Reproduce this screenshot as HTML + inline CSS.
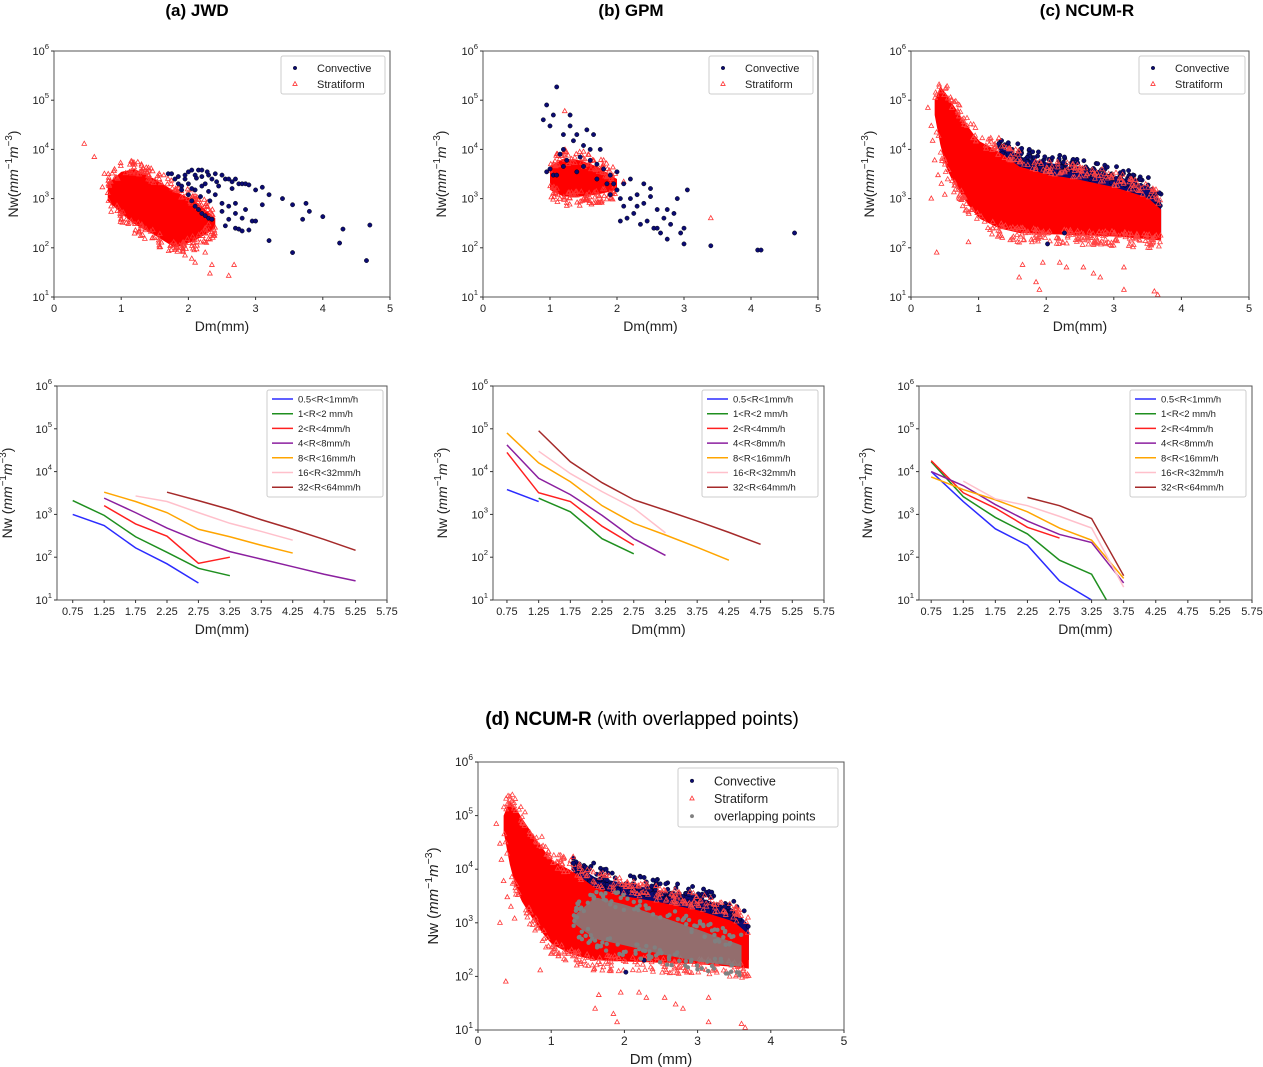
<!DOCTYPE html>
<html><head><meta charset="utf-8">
<style>
html,body{margin:0;padding:0;background:#fff;}
svg{display:block;font-family:"Liberation Sans","DejaVu Sans",sans-serif;}
</style></head>
<body>
<svg id="fig" width="1263" height="1067" viewBox="0 0 1263 1067" xmlns="http://www.w3.org/2000/svg">
<rect width="1263" height="1067" fill="#fff"/>
<text x="197" y="16" text-anchor="middle" font-size="17" font-weight="bold">(a) JWD</text>
<text x="631" y="16" text-anchor="middle" font-size="17" font-weight="bold">(b) GPM</text>
<text x="1087" y="16" text-anchor="middle" font-size="17" font-weight="bold">(c) NCUM-R</text>
<text x="642" y="725" text-anchor="middle" font-size="19"><tspan font-weight="bold">(d) NCUM-R</tspan> (with overlapped points)</text>
<g id="layer"></g>
</svg>
<script>
// ===== DATA =====
const lineXs = [0.75,1.25,1.75,2.25,2.75,3.25,3.75,4.25,4.75,5.25];
const seriesNames = ["0.5<R<1mm/h","1<R<2 mm/h","2<R<4mm/h","4<R<8mm/h","8<R<16mm/h","16<R<32mm/h","32<R<64mm/h"];
const jwdLines = [
 [1000,550,165,70,25,null,null,null,null,null],
 [2100,950,300,130,55,37,null,null,null,null],
 [null,1600,600,310,72,100,null,null,null,null],
 [null,2400,1100,480,240,135,90,60,40,28],
 [null,3300,2000,1100,450,300,190,125,null,null],
 [null,null,2700,2000,1100,620,400,250,null,null],
 [null,null,null,3300,2100,1300,750,450,260,145]
];
const gpmLines = [
 [3800,2000,null,null,null,null,null,null,null,null],
 [null,2400,1150,270,120,null,null,null,null,null],
 [28000,3200,2000,530,190,null,null,null,null,null],
 [42000,7000,2900,950,270,110,null,null,null,null],
 [80000,16000,5800,1600,620,330,170,85,null,null],
 [null,30000,9000,3400,1400,370,null,null,null,null],
 [null,90000,17000,5500,2200,1250,700,380,200,null]
];
const ncumLines = [
 [10000,2000,460,190,28,10,null,null,null,null],
 [17000,2600,850,350,85,40,2,null,null,null],
 [18000,3200,1400,500,280,null,null,null,null,null],
 [10000,4700,1700,700,340,220,25,null,null,null],
 [7500,3800,2200,1150,480,250,32,null,null,null],
 [null,6000,2300,1600,900,480,20,null,null,null],
 [null,null,null,2500,1600,800,37,null,null,null]
];
const jwdConv = [[1.7,3200],[1.75,3200],[1.8,2500],[1.85,2000],[1.9,1800],[1.95,2500],[2.0,3500],[2.05,3800],[2.1,3000],[2.15,3800],[2.2,3800],[2.25,2000],[2.3,3000],[2.35,2500],[2.4,3200],[2.5,3000],[2.55,2500],[2.6,2500],[2.65,2200],[2.7,2500],[2.75,2000],[2.8,2000],[2.85,2000],[2.9,1900],[1.9,1500],[2.0,1200],[2.05,900],[2.1,700],[2.15,600],[2.2,500],[2.25,450],[2.3,400],[2.35,380],[2.0,2000],[2.1,1500],[2.2,1800],[2.3,1400],[2.4,1200],[2.5,800],[2.6,700],[2.7,800],[2.5,550],[2.6,380],[2.7,250],[2.55,280],[2.75,240],[2.8,220],[2.9,230],[2.95,350],[3.0,350],[2.8,400],[2.85,600],[2.7,500],[3.0,1500],[3.1,1700],[3.2,1200],[3.1,750],[3.4,1000],[3.55,750],[3.75,800],[3.8,550],[3.7,380],[4.0,430],[4.3,240],[4.7,290],[3.2,140],[3.55,80],[4.25,125],[4.65,55],[2.45,1800],[2.65,1600],[2.2,2800],[1.95,3000],[2.12,2600],[2.28,3500],[2.42,2200],[1.85,2800],[2.05,1600],[2.18,1100],[2.32,900]];
const jwdStratEnvX = [0.8,1.0,1.2,1.5,1.8,2.1,2.4];
const jwdStratUp   = [2000,3500,4000,2500,1400,900,400];
const jwdStratLow  = [900,500,300,180,100,140,250];
const jwdStratOut  = [[0.45,13000],[0.6,7000],[0.75,3200],[0.72,1700],[0.82,1800],[0.8,1300],[1.95,70],[2.05,60],[2.1,50],[2.25,80],[2.35,45],[2.32,30],[2.6,27],[2.68,45],[1.8,90],[2.3,300],[2.25,250]];
const gpmConv = [[0.95,80000],[0.9,40000],[1.0,30000],[1.1,186000],[1.05,50000],[1.2,20000],[1.3,30000],[1.35,15000],[1.4,20000],[1.5,12000],[1.55,25000],[1.6,10000],[0.95,3500],[1.0,4000],[1.05,3000],[1.15,8000],[1.25,6000],[1.45,7000],[1.6,6000],[1.7,5000],[1.8,4000],[1.9,3000],[1.95,2000],[2.0,1500],[2.05,1000],[2.1,700],[2.2,2500],[2.3,1200],[2.4,800],[2.5,1600],[2.6,600],[2.7,400],[2.8,300],[2.9,1000],[3.0,250],[3.05,1500],[2.15,400],[2.25,500],[2.35,300],[2.45,350],[2.55,250],[2.65,200],[2.75,150],[2.85,500],[2.95,200],[3.0,120],[3.4,110],[4.1,90],[4.15,90],[4.65,200],[1.75,10000],[1.85,2000],[2.0,3500],[2.1,2000],[2.3,700],[2.4,2000],[1.65,20000],[1.3,50000],[1.2,10000],[1.1,3000],[1.2,4500],[1.4,3500],[1.5,4500],[1.7,2500],[1.9,1200],[2.2,1000],[2.5,1100],[2.6,250],[2.05,350],[2.75,600]];
const gpmStratEnvX = [1.0,1.2,1.45,1.7,2.0];
const gpmStratUp   = [4500,6500,6000,4500,2500];
const gpmStratLow  = [1500,1100,1100,1200,1500];
const gpmStratOut  = [[1.22,60000],[3.4,400],[1.1,8000],[1.5,9000],[1.8,6000],[2.1,2200]];
const ncumEnvX  = [0.35,0.42,0.5,0.6,0.8,1.0,1.3,1.6,2.0,2.5,3.0,3.5,3.7];
const ncumUp    = [100000,200000,150000,90000,35000,15000,9000,6000,4200,3200,2300,1400,800];
const ncumLow   = [50000,15000,5000,2500,900,400,250,200,190,180,170,150,140];
const ncumConvX = [1.3,1.6,2.0,2.5,3.0,3.5,3.7];
const ncumConvUp= [13000,7000,5500,4000,3000,1800,900];
const ncumConvLow=[5000,4000,3000,2000,1200,500,200];
const ncumStratOut = [[0.25,70000],[0.3,30000],[0.32,15000],[0.35,6000],[0.4,3000],[0.45,2000],[0.5,1200],[0.3,1000],[0.38,80],[0.85,130],[1.35,160],[1.6,25],[1.65,45],[1.85,20],[1.9,14],[1.95,50],[2.2,50],[2.3,40],[2.55,40],[2.7,30],[2.8,25],[3.15,40],[3.15,14],[3.6,13],[3.65,11],[1.3,17000]];
const ncumConvOut = [[1.3,13000],[1.58,13000],[1.75,10000],[2.27,7000],[2.02,120],[2.27,200]];
const overlapEnvX = [1.3,1.6,2.0,2.5,3.0,3.6];
const overlapUp   = [1300,3000,2200,1300,750,380];
const overlapLow  = [1000,500,380,260,190,150];

// ===== HELPERS =====
const NS="http://www.w3.org/2000/svg";
const layer=document.getElementById('layer');
function mk(tag,attrs,parent){const e=document.createElementNS(NS,tag);for(const k in attrs)e.setAttribute(k,attrs[k]);(parent||layer).appendChild(e);return e;}
let seed=12345;function rnd(){seed=(seed*1103515245+12345)%2147483648;return seed/2147483648;}
function lerpLog(xs,ys,x){for(let i=0;i<xs.length-1;i++){if(x>=xs[i]&&x<=xs[i+1]){const t=(x-xs[i])/(xs[i+1]-xs[i]);return Math.pow(10,Math.log10(ys[i])*(1-t)+Math.log10(ys[i+1])*t);}}return ys[ys.length-1];}
function axes(p){
 p.sx=v=>p.x0+(v-p.xmin)/(p.xmax-p.xmin)*(p.x1-p.x0);
 p.sy=v=>p.y1-(Math.log10(v)-1)/5*(p.y1-p.y0);
}
function drawFrame(p,name,xticks,xfmt,xlabel,ylabel,tickFs,labFs){
 const g=mk('g',{});
 
 
 mk('rect',{x:p.x0,y:p.y0,width:p.x1-p.x0,height:p.y1-p.y0,fill:'none',stroke:'#555','stroke-width':1},g);
 for(let e=1;e<=6;e++){
  const y=p.sy(Math.pow(10,e));
  mk('line',{x1:p.x0-3,x2:p.x0,y1:y,y2:y,stroke:'#333'},g);
  const t=mk('text',{x:p.x0-5,y:y+4,'text-anchor':'end','font-size':tickFs,fill:'#222'},g);
  
  
  t.textContent='10';
  const s=mk('tspan',{dy:-6,'font-size':tickFs*0.7},t);s.textContent=String(e);
 }
 xticks.forEach(v=>{
  const x=p.sx(v);
  mk('line',{x1:x,x2:x,y1:p.y1,y2:p.y1+3,stroke:'#333'},g);
  const t=mk('text',{x:x,y:p.y1+15,'text-anchor':'middle','font-size':tickFs,fill:'#222'},g);
  
  
  t.textContent=xfmt(v);
 });
 const xl=mk('text',{x:(p.x0+p.x1)/2,y:p.y1+34,'text-anchor':'middle','font-size':labFs,fill:'#222'},g);
 
 
 xl.textContent=xlabel;
 const yc=(p.y0+p.y1)/2, yx=p.ylx;
 const yl=mk('text',{x:yx,y:yc,'text-anchor':'middle','font-size':labFs,fill:'#222',transform:`rotate(-90 ${yx} ${yc})`},g);
 
 
 const a=mk('tspan',{},yl);a.textContent=ylabel;
 const b=mk('tspan',{'font-style':'italic'},yl);b.textContent='mm';
 const c=mk('tspan',{dy:-6,'font-size':labFs*0.7},yl);c.textContent='−1';
 const d=mk('tspan',{dy:6,'font-style':'italic'},yl);d.textContent='m';
 const e2=mk('tspan',{dy:-6,'font-size':labFs*0.7},yl);e2.textContent='−3';
 const f=mk('tspan',{dy:6},yl);f.textContent=')';
}
function clip(p,id){const cp=mk('clipPath',{id:id});mk('rect',{x:p.x0,y:p.y0,width:p.x1-p.x0,height:p.y1-p.y0},cp);return 'url(#'+id+')';}
function tri(g,x,y,col,s){s=s||2.6;mk('path',{d:`M${x} ${y-s}L${x+s*0.9} ${y+s*0.6}L${x-s*0.9} ${y+s*0.6}Z`,fill:'none',stroke:col,'stroke-width':0.8},g);}
function dot(g,x,y,col,r,st){mk('circle',{cx:x,cy:y,r:r||2.2,fill:col,stroke:st||'#000','stroke-width':0.4},g);}
function envPoly(p,g,xs,up,low,fill,name,op){
 let d='';
 const N=40,a=xs[0],b=xs[xs.length-1];
 for(let i=0;i<=N;i++){const x=a+(b-a)*i/N;d+=(i?'L':'M')+p.sx(x)+' '+p.sy(lerpLog(xs,up,x));}
 for(let i=N;i>=0;i--){const x=a+(b-a)*i/N;d+='L'+p.sx(x)+' '+p.sy(lerpLog(xs,low,x));}
 const e=mk('path',{d:d+'Z',fill:fill,opacity:op||1},g);
 
 
}
function texture(p,g,xs,up,low,n,fn){
 const a=xs[0],b=xs[xs.length-1];
 for(let i=0;i<n;i++){
  const x=a+(b-a)*rnd();
  const isUp=rnd()<0.5;
  const base=isUp?lerpLog(xs,up,x):lerpLog(xs,low,x);
  const off=(rnd()-0.35)*0.3*(isUp?1:-1);
  fn(p.sx(x),p.sy(base*Math.pow(10,off)));
 }
}
function legendScatter(name,x,y,w,h,items,fs){
 const g=mk('g',{});
 
 
 mk('rect',{x:x,y:y,width:w,height:h,rx:2,fill:'#fff',stroke:'#ccc'},g);
 const step=(h-6)/items.length;
 items.forEach((it,i)=>{
  const cy=y+4+step*(i+0.5);
  const eg=mk('g',{},g);
  
  
  if(it[1]==='c')dot(eg,x+14,cy,'#0b0b72',1.8);
  else if(it[1]==='s')tri(eg,x+14,cy,'#f33',2.4);
  else dot(eg,x+14,cy,'#808080',1.8,'#808080');
  const t=mk('text',{x:x+36,y:cy+fs*0.36,'font-size':fs,fill:'#222'},eg);t.textContent=it[0];
 });
}
function scatterPanel(p,name,cfg){
 axes(p);
 const cl=clip(p,name+'-clip');
 const g=mk('g',{'clip-path':cl});
 
 
 cfg(g);
 drawFrame(p,name,[0,1,2,3,4,5],v=>String(v),p.xlab,p.ylab,p.tfs,p.lfs);
}
const lineColors=['#2b2bff','#1f8f1f','#ff2020','#8b1f9f','#ffa500','#ffc0cb','#a52a2a'];
function linePanel(p,name,data){
 axes(p);
 const cl=clip(p,name+'-clip');
 const g=mk('g',{'clip-path':cl});
 
 
 data.forEach((ser,si)=>{
  let d='';ser.forEach((v,i)=>{if(v==null)return;d+=(d?'L':'M')+p.sx(lineXs[i])+' '+p.sy(v);});
  const e=mk('path',{d:d,fill:'none',stroke:lineColors[si],'stroke-width':1.5},g);
  
  
 });
 drawFrame(p,name,[0.75,1.25,1.75,2.25,2.75,3.25,3.75,4.25,4.75,5.25,5.75],v=>v.toFixed(2),'Dm(mm)','Nw (',11,14);
 const lg=mk('g',{});
 
 
 const lx=p.lgx,ly=390,lw=116,lh=107;
 mk('rect',{x:lx,y:ly,width:lw,height:lh,rx:2,fill:'#fff',stroke:'#ccc'},lg);
 seriesNames.forEach((s,i)=>{
  const cy=ly+9+i*14.7;
  const eg=mk('g',{},lg);
  
  
  mk('line',{x1:lx+5,x2:lx+26,y1:cy,y2:cy,stroke:lineColors[i],'stroke-width':1.5},eg);
  const t=mk('text',{x:lx+31,y:cy+3.5,'font-size':9.5,fill:'#222'},eg);t.textContent=s;
 });
}
const SCFG={y0:51,y1:297,xmin:0,xmax:5,xlab:'Dm(mm)',ylab:'Nw(',tfs:11,lfs:14};
function makeA(){
 const p=Object.assign({x0:54,x1:390,ylx:18},SCFG);axes(p);
 scatterPanel(p,'panel-a',g=>{
  envPoly(p,g,jwdStratEnvX,jwdStratUp,jwdStratLow,'#ff0000','stratiform-cloud');
  texture(p,g,jwdStratEnvX,jwdStratUp,jwdStratLow,220,(x,y)=>tri(g,x,y,'#f33'));
  jwdStratOut.forEach(q=>tri(g,p.sx(q[0]),p.sy(q[1]),'#f33'));
  jwdConv.forEach(q=>dot(g,p.sx(q[0]),p.sy(q[1]),'#0b0b72'));
 });
 legendScatter('legend-a',281,56,104,38,[['Convective','c'],['Stratiform','s']],11);
}
function makeB(){
 const p=Object.assign({x0:483,x1:818,ylx:446},SCFG);axes(p);
 scatterPanel(p,'panel-b',g=>{
  envPoly(p,g,gpmStratEnvX,gpmStratUp,gpmStratLow,'#ff0000','stratiform-cloud');
  texture(p,g,gpmStratEnvX,gpmStratUp,gpmStratLow,150,(x,y)=>tri(g,x,y,'#f33'));
  gpmStratOut.forEach(q=>tri(g,p.sx(q[0]),p.sy(q[1]),'#f33'));
  gpmConv.forEach(q=>dot(g,p.sx(q[0]),p.sy(q[1]),'#0b0b72'));
 });
 legendScatter('legend-b',709,56,104,38,[['Convective','c'],['Stratiform','s']],11);
}
function ncum(p,g,overlap){
 envPoly(p,g,ncumConvX,ncumConvUp,ncumConvLow,'#0b0b72','convective-cloud');
 texture(p,g,ncumConvX,ncumConvUp,ncumConvUp,160,(x,y)=>dot(g,x,y,'#0b0b72'));
 const up2=ncumEnvX.map((x,i)=>x>=1.5?ncumUp[i]*0.75:ncumUp[i]);
 envPoly(p,g,ncumEnvX,up2,ncumLow,'#ff0000','stratiform-cloud');
 texture(p,g,ncumEnvX,ncumUp,ncumLow,420,(x,y)=>tri(g,x,y,'#f44'));
 ncumStratOut.forEach(q=>tri(g,p.sx(q[0]),p.sy(q[1]),'#f33'));
 ncumConvOut.forEach(q=>dot(g,p.sx(q[0]),p.sy(q[1]),'#0b0b72'));
 if(overlap){
  envPoly(p,g,overlapEnvX,overlapUp,overlapLow,'#808080','overlap-cloud',0.85);
  texture(p,g,overlapEnvX,overlapUp,overlapLow,160,(x,y)=>dot(g,x,y,'#808080',2,'#808080'));
 }
}
function makeC(){
 const p=Object.assign({x0:911,x1:1249,ylx:874},SCFG);axes(p);
 scatterPanel(p,'panel-c',g=>ncum(p,g,false));
 legendScatter('legend-c',1139,56,106,38,[['Convective','c'],['Stratiform','s']],11);
}
function makeD(){
 const p={x0:478,x1:844,y0:762,y1:1030,xmin:0,xmax:5,xlab:'Dm (mm)',ylab:'Nw (',tfs:12,lfs:15,ylx:438};axes(p);
 scatterPanel(p,'panel-d',g=>ncum(p,g,true));
 legendScatter('legend-d',678,768,160,59,[['Convective','c'],['Stratiform','s'],['overlapping points','o']],12.5);
}
makeA();makeB();makeC();makeD();
linePanel({x0:57,x1:387,y0:386,y1:600,xmin:0.5,xmax:5.75,ylx:12,lgx:267},'lines-a',jwdLines);
linePanel({x0:493,x1:824,y0:386,y1:600,xmin:0.53,xmax:5.75,ylx:447,lgx:702},'lines-b',gpmLines);
linePanel({x0:919,x1:1252,y0:386,y1:600,xmin:0.56,xmax:5.75,ylx:872,lgx:1130},'lines-c',ncumLines);
</script>
</body></html>
